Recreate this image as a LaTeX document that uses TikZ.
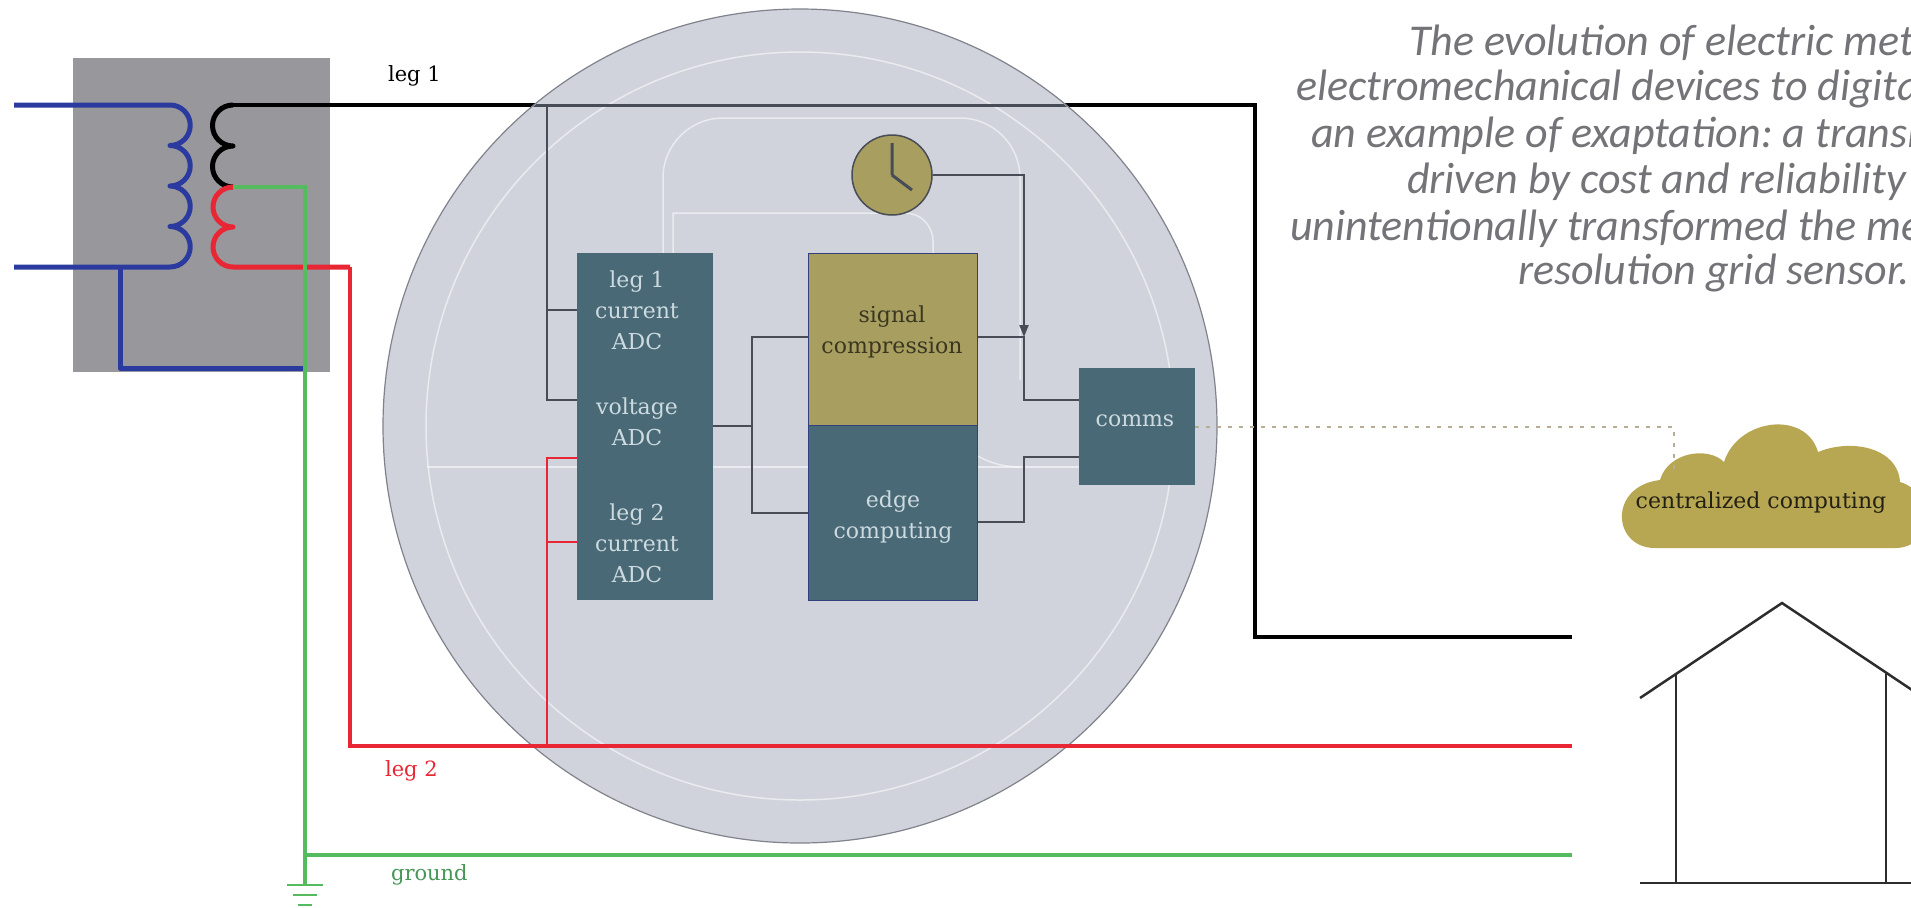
\documentclass[tikz,border=0pt]{standalone}
\usepackage{fontspec}
\setmainfont{DejaVu Serif}
\newfontfamily\capfont{Carlito}
\usetikzlibrary{arrows.meta}
\frenchspacing

\definecolor{wireblue}{RGB}{43,58,158}
\definecolor{wirered}{RGB}{232,38,52}
\definecolor{wiregreen}{RGB}{84,187,94}
\definecolor{gndtext}{RGB}{70,150,85}
\definecolor{xfmrgray}{RGB}{151,151,156}
\definecolor{meterface}{RGB}{208,211,219}
\definecolor{meteredge}{RGB}{128,131,140}
\definecolor{blockteal}{RGB}{73,105,118}
\definecolor{blocktext}{RGB}{205,218,224}
\definecolor{blockolive}{RGB}{168,158,96}
\definecolor{olivetext}{RGB}{58,55,32}
\definecolor{boxedge}{RGB}{52,64,125}
\definecolor{connline}{RGB}{72,76,86}
\definecolor{captiongray}{RGB}{115,115,120}
\definecolor{cloudolive}{RGB}{184,167,82}
\definecolor{dotline}{RGB}{185,172,148}
\definecolor{housegray}{RGB}{45,45,45}

\begin{document}
\begin{tikzpicture}[x=0.5pt,y=-0.5pt,
wire/.style={line width=2pt},
coil/.style={line width=2.5pt,line join=round},
conn/.style={draw=connline,line width=1pt},
tapred/.style={draw=wirered,line width=0.75pt},
block/.style={
	rectangle,inner sep=0pt,fill=blockteal},
codec/.style={block,fill=blockolive,draw=boxedge,line width=0.5pt},
blocklabel/.style={font=\fontsize{11}{15.5}\selectfont,text=blocktext,align=center},
wirelabel/.style={font=\fontsize{10.5}{12}\selectfont,anchor=base west},
caption/.style={font=\capfont\itshape\fontsize{22}{23}\selectfont,text=captiongray,anchor=base west},
face/.style={draw=white,opacity=0.55,line width=0.75pt},
house/.style={draw=housegray,line width=1.25pt}
]
\useasboundingbox (0,0) rectangle (1911,907);
\clip (0,0) rectangle (1911,907);

% transformer
\node[rectangle,fill=xfmrgray,minimum width=128.5pt,minimum height=157pt] (xfmr) at (201.5,215) {};
\draw[coil,wireblue] (14,105) -- (170,105)
	arc[start angle=-90,end angle=90,radius=20.25]
	arc[start angle=-90,end angle=90,radius=20.25]
	arc[start angle=-90,end angle=90,radius=20.25]
	arc[start angle=-90,end angle=90,radius=20.25] -- (14,267);
\draw[coil,wireblue] (120,267) |- (305,368);
\coordinate (sec) at (233,105);
\coordinate (ctap) at (233,187);
\draw[coil,black] (sec)
	arc[start angle=-90,end angle=-270,radius=20.5]
	arc[start angle=-90,end angle=-270,radius=20.5];
\draw[coil,wirered] (ctap)
	arc[start angle=-90,end angle=-270,radius=20]
	arc[start angle=-90,end angle=-270,radius=20] -- (350,267);

% house ends
\coordinate (end1) at (1572,637);
\coordinate (end2) at (1572,746);
\coordinate (end3) at (1572,855);

% leg 1
\draw[wire,black] (sec) -- (1255,105) |- (end1);
\node[wirelabel] (leg1) at (381,81) {leg 1};

% meter
\node[circle,inner sep=0pt,minimum size=417pt,fill=meterface,draw=meteredge,line width=0.6pt] (meter) at (800,426) {};
\draw[face] (meter.center) circle[radius=374];
\draw[face] (427,467) -- (1174,467);
\draw[face] (673,598) -- (673,213) -- (905,213)
	arc[start angle=-90,end angle=0,radius=28] -- (933,380)
	arc[start angle=180,end angle=90,radius=87];
\draw[face] (663,598) -- (663,178)
	arc[start angle=180,end angle=270,radius=60] -- (960,118)
	arc[start angle=-90,end angle=0,radius=60] -- (1020,380);
\begin{scope}
\clip (meter.center) circle[radius=416];
\draw[conn,line width=1.5pt] (sec) -- (1255,105);
\end{scope}

% leg 2 and ground
\draw[wire,wirered] (350,267) |- (end2);
\node[wirelabel,text=wirered] (leg2) at (378,776) {leg 2};
\draw[wire,wiregreen] (ctap) -| (305,885);
\draw[wire,wiregreen] (305,855) -- (end3);
\draw[wiregreen,line width=1.25pt] (287,885) -- (323,885) (293,895) -- (317,895) (298,905) -- (312,905);
\node[wirelabel,text=gndtext] (gnd) at (384,880) {ground};

% blocks
\node[block,minimum width=68pt,minimum height=173.5pt] (adc) at (645,426.5) {};
\node[blocklabel] (adcleg1) at (637,310) {leg 1\\current\\ADC};
\node[blocklabel] (adcvolt) at (637,422) {voltage\\ADC};
\node[blocklabel] (adcleg2) at (637,543) {leg 2\\current\\ADC};
\node[codec,minimum width=84.5pt,minimum height=86pt] (sigbox) at (892.5,339) {};
\node[blocklabel,text=olivetext] (siglabel) at (892,332) {signal\\compression};
\node[codec,fill=blockteal,minimum width=84.5pt,minimum height=87.5pt] (edgebox) at (892.5,512.5) {};
\node[blocklabel] (edgelabel) at (893,517) {edge\\computing};
\node[block,minimum width=58pt,minimum height=58.5pt] (commsbox) at (1137,426.5) {};
\node[blocklabel] (commslabel) at (1135,421) {comms};
\node[circle,inner sep=0pt,minimum size=40pt,fill=blockolive,draw=connline,line width=0.75pt] (clock) at (892,175) {};
\draw[connline,line width=1.5pt] (clock.center) -- ++(0,-32) (clock.center) -- ++(20,15);

% taps into the ADC
\coordinate (tap) at (547,105);
\coordinate (jA) at (547,310);
\coordinate (jV) at (547,400);
\draw[conn] (tap) -- (jV) -- (jV -| adc.west);
\draw[conn] (jA) -- (jA -| adc.west);
\coordinate (rtap) at (547,746);
\coordinate (rA) at (547,458);
\coordinate (rB) at (547,542);
\draw[tapred] (rtap) -- (rA) -- (rA -| adc.west);
\draw[tapred] (rB) -- (rB -| adc.west);

% ADC to processing
\coordinate (sp) at (752,426);
\coordinate (s1) at (752,337);
\coordinate (s2) at (752,513);
\draw[conn] (sp -| adc.east) -- (sp);
\draw[conn] (s1 -| sigbox.west) -- (s1) -- (s2) -- (s2 -| edgebox.west);

% processing to comms
\coordinate (c1) at (1024,337);
\coordinate (c2) at (1024,400);
\coordinate (c3) at (1024,522);
\coordinate (c4) at (1024,457);
\draw[conn] (c1 -| sigbox.east) -- (c1) -- (c2) -- (c2 -| commsbox.west);
\draw[conn] (c3 -| edgebox.east) -- (c3) -- (c4) -- (c4 -| commsbox.west);
\draw[conn,-{Triangle[length=6pt,width=4.5pt]}] (clock.east) -| (c1);

% cloud
\path[fill=cloudolive] (1655,548)
	.. controls (1612,548) and (1608,486) .. (1660,480)
	.. controls (1668,452) and (1708,446) .. (1724,462)
	.. controls (1738,418) and (1806,410) .. (1818,452)
	.. controls (1852,438) and (1898,448) .. (1900,482)
	.. controls (1935,492) and (1935,548) .. (1895,548) -- cycle;
\node[font=\fontsize{11}{13}\selectfont,text=olivetext!60!black] (cloud) at (1761,503) {centralized computing};
\coordinate (up) at (1674,427);
\coordinate (down) at (1674,472);
\draw[dotline,line width=0.75pt,dash pattern=on 2pt off 3.5pt] (commsbox.east |- up) -- (up) -- (down);

% house
\coordinate (eaveL) at (1640,698);
\coordinate (apex) at (1782,603);
\coordinate (eaveR) at (1924,698);
\draw[house] (eaveL) -- (apex) -- (eaveR);
\draw[house] (1640,883) -- (1911,883);
\draw[house] (1676,674) -- (1676,883) (1886,673) -- (1886,883);

% caption
\node[caption] (cap1) at (1402,55) {The evolution of electric meters};
\node[caption] (cap2) at (1289,100) {electromechanical devices to digital};
\node[caption] (cap3) at (1304,147) {an example of exaptation: a transition};
\node[caption] (cap4) at (1400,193) {driven by cost and reliability that};
\node[caption] (cap5) at (1283,240) {unintentionally transformed the meter};
\node[caption] (cap6) at (1511,284) {resolution grid sensor.};
\end{tikzpicture}
\end{document}
